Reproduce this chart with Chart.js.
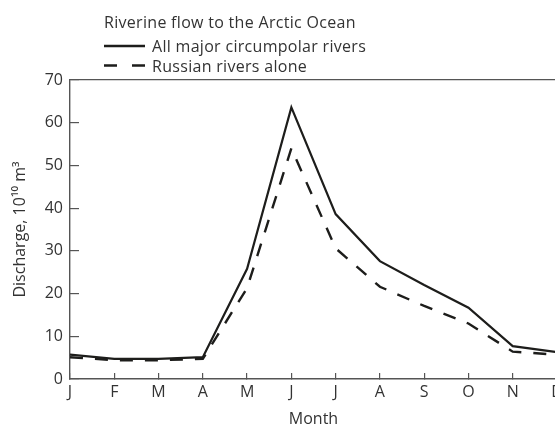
<!DOCTYPE html>
<html>
<head>
<meta charset="utf-8">
<script src="https://cdn.jsdelivr.net/npm/chart.js@4.4.0/dist/chart.umd.min.js"></script>
<style>
  html, body { margin: 0; padding: 0; background: #fff; overflow: hidden; }
</style>
</head>
<body>
<canvas id="flow" width="575" height="432"></canvas>
<script>
// values, 10^10 m3 per month
const months = ['J', 'F', 'M', 'A', 'M', 'J', 'J', 'A', 'S', 'O', 'N', 'D'];
const allRivers = [5.7, 4.7, 4.7, 5.1, 25.8, 63.6, 38.6, 27.6, 22.0, 16.7, 7.7, 6.3];
const russianRivers = [5.1, 4.4, 4.4, 4.7, 21.3, 54.0, 30.6, 21.6, 17.1, 13.0, 6.4, 5.7];
const yTicks = [0, 10, 20, 30, 40, 50, 60, 70];

const headerTitle = 'Riverine flow to the Arctic Ocean';

const ink = '#1d1d1b';
const axisColor = '#555555';
const textColor = '#333333';
const fontFamily = '"Open Sans", "Noto Sans", sans-serif';

// title + stacked legend above the plot, like the printed figure
const headerLegend = {
    id: 'headerLegend',
    afterDraw(chart) {
        const ctx = chart.ctx;
        ctx.save();
        ctx.fillStyle = textColor;
        ctx.font = '16px ' + fontFamily;
        ctx.letterSpacing = '0.3px';
        ctx.textBaseline = 'alphabetic';
        ctx.fillText(headerTitle, 104, 28);

        chart.data.datasets.forEach((ds, i) => {
            const y = 46 + i * 19.5;
            ctx.strokeStyle = ds.borderColor;
            ctx.lineWidth = 2.4;
            ctx.setLineDash(ds.borderDash && ds.borderDash.length ? [13, 15] : []);
            ctx.beginPath();
            ctx.moveTo(104, y);
            ctx.lineTo(145, y);
            ctx.stroke();
            ctx.setLineDash([]);
            ctx.fillStyle = textColor;
            ctx.fillText(ds.label, 152, y + 6);
        });
        ctx.restore();
    }
};

new Chart(document.getElementById('flow'), {
    type: 'line',
    data: {
        labels: months,
        datasets: [{
            label: 'All major circumpolar rivers',
            data: allRivers,
            borderColor: ink,
            borderWidth: 2.2,
            pointRadius: 0,
            tension: 0
        }, {
            label: 'Russian rivers alone',
            data: russianRivers,
            borderColor: ink,
            borderWidth: 2.4,
            borderDash: [13, 12],
            pointRadius: 0,
            tension: 0
        }]
    },
    options: {
        responsive: false,
        animation: false,
        layout: { padding: { top: 80, right: 18, left: 0, bottom: 0 } },
        plugins: {
            legend: { display: false },
            tooltip: { enabled: false }
        },
        scales: {
            x: {
                offset: false,
                afterFit: s => { s.height = 53; },
                grid: {
                    drawOnChartArea: false,
                    tickLength: -6,
                    tickColor: axisColor,
                    color: axisColor,
                    lineWidth: 1.2
                },
                border: { color: axisColor, width: 1.4 },
                ticks: {
                    color: textColor,
                    font: { family: fontFamily, size: 16 },
                    padding: 10,
                    maxRotation: 0,
                    autoSkip: false
                },
                title: {
                    display: true,
                    text: 'Month',
                    color: textColor,
                    font: { family: fontFamily, size: 16 },
                    padding: { top: 4, bottom: 3 }
                }
            },
            y: {
                min: 0,
                max: 70,
                afterBuildTicks: s => { s.ticks = yTicks.map(v => ({ value: v })); },
                afterFit: s => { s.width = 70; },
                grid: {
                    color: c => (c.tick && c.tick.value === 70 ? axisColor : 'transparent'),
                    tickColor: axisColor,
                    tickLength: -9,
                    lineWidth: 1.2
                },
                border: { color: axisColor, width: 1.4 },
                ticks: {
                    color: textColor,
                    font: { family: fontFamily, size: 16 },
                    padding: 16
                },
                title: {
                    display: true,
                    text: 'Discharge, 10¹⁰ m³',
                    color: textColor,
                    font: { family: fontFamily, size: 16 },
                    padding: { top: 11, bottom: 0 }
                }
            }
        }
    },
    plugins: [headerLegend]
});
</script>
</body>
</html>
